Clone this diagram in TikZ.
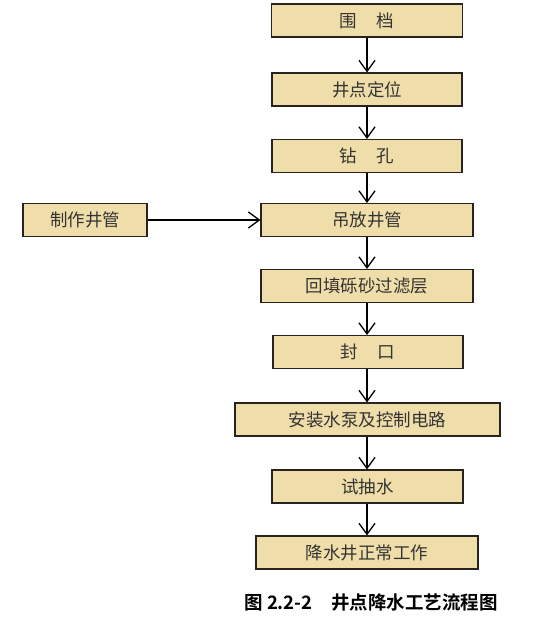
\documentclass[tikz,border=0pt]{standalone}
\usepackage{fontspec}
\newfontfamily\cjk{Noto Sans CJK SC}[BoldFont={Noto Sans CJK SC Bold}]
\usetikzlibrary{arrows.meta}
\definecolor{pergament}{RGB}{240,222,170}
\definecolor{rahmen}{RGB}{40,35,30}
\tikzset{
	kasten/.style={draw=rahmen, line width=1.1pt, fill=pergament, rectangle,
		minimum height=33pt, inner sep=0pt, font=\cjk\fontsize{17.5}{19}\selectfont, text=black!80},
	pfeil/.style={draw=black, line width=1.3pt, -{Straight Barb[length=11pt,width=16pt,line width=1.3pt]}}
}
\begin{document}
\begin{tikzpicture}[x=1pt, y=-1pt]
		\useasboundingbox (0, 0) rectangle (543, 622);
		% Hauptkette
		\node [kasten, minimum width=191pt] (weigang) at (367, 20.5) {围\hspace{1.1em}档};
		\node [kasten, minimum width=190pt] (dingwei) at (367, 89.5) {井点定位};
		\node [kasten, minimum width=190pt] (zuankong) at (367, 156) {钻\hspace{1.1em}孔};
		\node [kasten, minimum width=212pt] (diaofang) at (367, 220) {吊放井管};
		\node [kasten, minimum width=212pt] (huitian) at (367, 286) {回填砾砂过滤层};
		\node [kasten, minimum width=190pt] (fengkou) at (368, 352) {封\hspace{1.1em}口};
		\node [kasten, minimum width=265pt] (anzhuang) at (367.5, 419.5) {安装水泵及控制电路};
		\node [kasten, minimum width=191pt] (choushui) at (367.5, 486.5) {试抽水};
		\node [kasten, minimum width=222pt] (zhengchang) at (367, 552.5) {降水井正常工作};
		% Linker Kasten
		\node [kasten, minimum width=124pt] (zhizuo) at (85, 220) {制作井管};
		% Beschriftung unten
		\node [font=\cjk\bfseries\fontsize{18.5}{20}\selectfont] (titel) at (371, 603) {图 2.2-2\hspace{1em}井点降水工艺流程图};
		% Pfeile
		\draw [pfeil] (weigang) -- (dingwei);
		\draw [pfeil] (dingwei) -- (zuankong);
		\draw [pfeil] (zuankong) -- (diaofang);
		\draw [pfeil] (diaofang) -- (huitian);
		\draw [pfeil] (huitian) -- (fengkou.north -| huitian);
		\draw [pfeil] (fengkou.south -| huitian) -- (anzhuang.north -| huitian);
		\draw [pfeil] (anzhuang.south -| huitian) -- (choushui.north -| huitian);
		\draw [pfeil] (choushui.south -| huitian) -- (zhengchang.north -| huitian);
		\draw [pfeil] (zhizuo) -- (diaofang);
	\end{tikzpicture}
\end{document}
